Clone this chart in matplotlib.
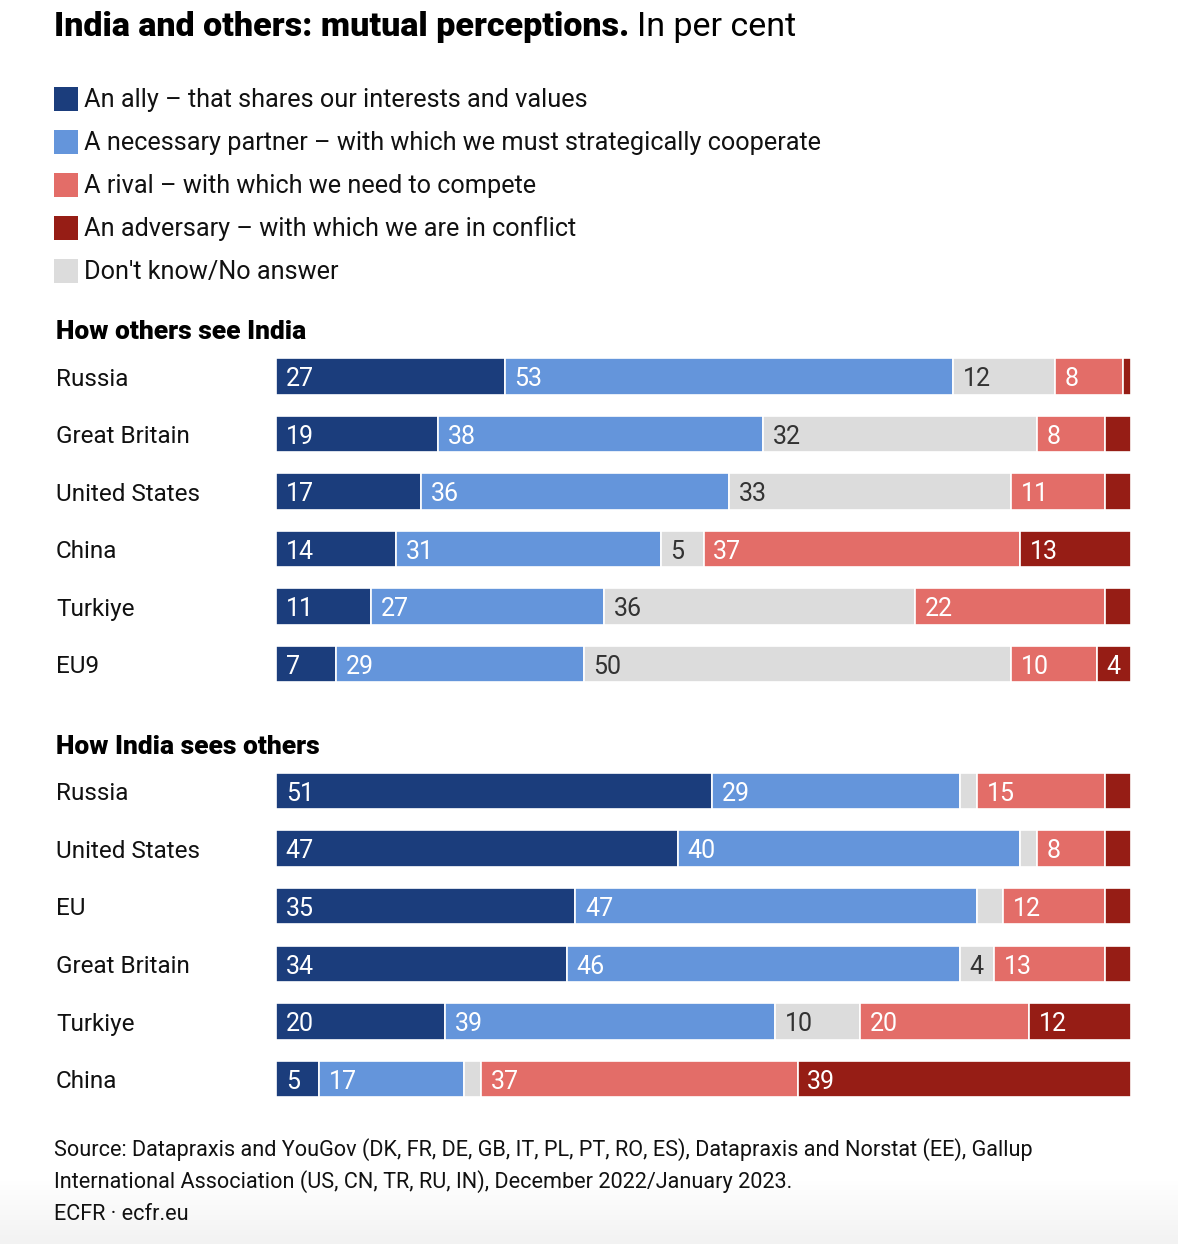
import numpy as np
import matplotlib
matplotlib.use("Agg")
from matplotlib import pyplot as plt
from matplotlib.patches import Rectangle
from matplotlib.transforms import blended_transform_factory

plt.rcParams['font.family'] = ['Roboto', 'DejaVu Sans']

# data
categories = {
  "ally": "An ally \u2013 that shares our interests and values",
  "partner": "A necessary partner \u2013 with which we must strategically cooperate",
  "rival": "A rival \u2013 with which we need to compete",
  "adversary": "An adversary \u2013 with which we are in conflict",
  "dk": "Don't know/No answer",
}
# stacking order in the bars: ally, partner, dk, rival, adversary
stack_keys = ["ally", "partner", "dk", "rival", "adversary"]
legend_keys = ["ally", "partner", "rival", "adversary", "dk"]

top_countries = ["Russia", "Great Britain", "United States", "China", "Turkiye", "EU9"]
top_ally      = [27, 19, 17, 14, 11, 7]
top_partner   = [53, 38, 36, 31, 27, 29]
top_dk        = [12, 32, 33, 5, 36, 50]
top_rival     = [8, 8, 11, 37, 22, 10]
top_adversary = [1, 3, 3, 13, 3, 4]

bot_countries = ["Russia", "United States", "EU", "Great Britain", "Turkiye", "China"]
bot_ally      = [51, 47, 35, 34, 20, 5]
bot_partner   = [29, 40, 47, 46, 39, 17]
bot_dk        = [2, 2, 3, 4, 10, 2]
bot_rival     = [15, 8, 12, 13, 20, 37]
bot_adversary = [3, 3, 3, 3, 12, 39]

colors = {
  "ally": "#1b3d7c",
  "partner": "#6495db",
  "dk": "#dcdcdc",
  "rival": "#e36d68",
  "adversary": "#961d15",
}

W, H = 1178, 1244
fig = plt.figure(figsize=(W / 100, H / 100), dpi=100)

def fx(px): return px / W
def fy(py): return 1 - py / H

def draw_block(ax, countries, series):
  vals = np.array(series, dtype=float)  # shape (5, n)
  widths = vals / vals.sum(axis=0) * 100
  lefts = np.cumsum(widths, axis=0) - widths
  y = np.arange(len(countries))
  for i, key in enumerate(stack_keys):
    ax.barh(y, widths[i], left=lefts[i], height=0.63, color=colors[key],
            edgecolor="white", linewidth=1.2)
    for j in range(len(countries)):
      v = vals[i, j]
      if v >= 4:
        tc = "#333333" if key == "dk" else "white"
        ax.annotate(f"{int(v)}", (lefts[i, j], y[j]), xytext=(7, -2),
                    textcoords="offset points", va="center", ha="left",
                    fontsize=18, color=tc)
  ax.set_xlim(0, 100)
  ax.set_ylim(len(countries) - 0.5, -0.5)
  ax.axis("off")
  tr = blended_transform_factory(fig.transFigure, ax.transData)
  for j, c in enumerate(countries):
    ax.annotate(c, (fx(56), y[j]), xycoords=tr, xytext=(0, -2), textcoords="offset points",
                va="center", ha="left", fontsize=17.5, color="#111111")

ax_top = fig.add_axes([fx(276), fy(692.75), fx(855), 345 / H])
draw_block(ax_top, top_countries, [top_ally, top_partner, top_dk, top_rival, top_adversary])

ax_bot = fig.add_axes([fx(276), fy(1107.75), fx(855), 345.5 / H])
draw_block(ax_bot, bot_countries, [bot_ally, bot_partner, bot_dk, bot_rival, bot_adversary])

# title
t1 = fig.text(fx(54), fy(27), "India and others: mutual perceptions.", fontsize=24.5,
              fontweight="black", va="center", ha="left", color="#000000")
fig.canvas.draw()
bb = t1.get_window_extent(fig.canvas.get_renderer())
fig.text(bb.x1 / W + fx(8), fy(27), "In per cent", fontsize=24.5, va="center", ha="left",
         color="#000000")

# legend
for k, key in enumerate(legend_keys):
  yc = 99 + k * 43
  fig.patches.append(Rectangle((fx(54), fy(yc + 12)), fx(24), 24 / H, transform=fig.transFigure,
                               facecolor=colors[key], edgecolor="none"))
  fig.text(fx(84), fy(yc + 1), categories[key], fontsize=18.2, va="center", ha="left",
           color="#111111")

# section headers
fig.text(fx(56), fy(332), "How others see India", fontsize=19, fontweight="black",
         va="center", ha="left", color="#000000")
fig.text(fx(56), fy(747), "How India sees others", fontsize=19, fontweight="black",
         va="center", ha="left", color="#000000")

# source
src = ["Source: Datapraxis and YouGov (DK, FR, DE, GB, IT, PL, PT, RO, ES), Datapraxis and Norstat (EE), Gallup",
       "International Association (US, CN, TR, RU, IN), December 2022/January 2023.",
       "ECFR \u00b7 ecfr.eu"]
for i, line in enumerate(src):
  fig.text(fx(54), fy(1150 + i * 32), line, fontsize=15.6, va="center", ha="left", color="#111111")

# faint footer shading
grad = np.linspace(1.0, 0.95, 64).reshape(-1, 1)
fig.figimage(np.dstack([grad, grad, grad]) * np.ones((1, W, 1)), xo=0, yo=0, zorder=0)

fig.savefig("out.png", dpi=100, facecolor="white")
